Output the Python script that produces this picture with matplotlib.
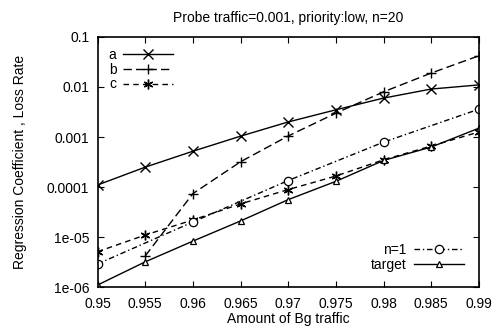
import numpy as np
import matplotlib
matplotlib.use('Agg')
import matplotlib.pyplot as plt
from matplotlib.ticker import FixedLocator, FixedFormatter, NullLocator

plt.rcParams['font.family'] = ['Liberation Sans', 'DejaVu Sans']
plt.rcParams['font.size'] = 10

# data
x_all = [0.95, 0.955, 0.96, 0.965, 0.97, 0.975, 0.98, 0.985, 0.99]
a_vals = [1.1e-4, 2.5e-4, 5.2e-4, 1.04e-3, 2.0e-3, 3.5e-3, 6.0e-3, 9.1e-3, 1.1e-2]
x_b = [0.955, 0.96, 0.965, 0.97, 0.975, 0.98, 0.985, 0.99]
b_vals = [4.2e-6, 7.4e-5, 3.2e-4, 1.05e-3, 3.0e-3, 8.0e-3, 1.9e-2, 4.2e-2]
c_vals = [5.1e-6, 1.1e-5, 2.2e-5, 4.6e-5, 8.9e-5, 1.66e-4, 3.5e-4, 6.6e-4, 1.26e-3]
x_n1 = [0.95, 0.96, 0.97, 0.98, 0.99]
n1_vals = [2.9e-6, 2.0e-5, 1.35e-4, 7.9e-4, 3.6e-3]
target_vals = [1.1e-6, 3.2e-6, 8.3e-6, 2.1e-5, 5.6e-5, 1.3e-4, 3.4e-4, 6.3e-4, 1.5e-3]

y_ticks = [1e-6, 1e-5, 1e-4, 1e-3, 1e-2, 1e-1]
y_labels = ['1e-06', '1e-05', '0.0001', '0.001', '0.01', '0.1']
x_labels = ['0.95', '0.955', '0.96', '0.965', '0.97', '0.975', '0.98', '0.985', '0.99']

fig = plt.figure(figsize=(5.03, 3.30), dpi=100)
ax = fig.add_axes([0.194, 0.130, 0.758, 0.758])

la, = ax.plot(x_all, a_vals, color='black', lw=1.0, ls='-', marker='x', ms=6.5, mew=1.0)
lb, = ax.plot(x_b, b_vals, color='black', lw=1.0, ls=(0, (6, 3)), marker='+', ms=7.5, mew=1.0)
lc, = ax.plot(x_all, c_vals, color='black', lw=1.0, ls=(0, (4, 3)), marker=(6, 2, 0), ms=7, mew=1.0)
ln, = ax.plot(x_n1, n1_vals, color='black', lw=1.0, ls=(0, (4, 2, 1, 2)), marker='o', ms=6,
              mfc='white', mew=0.9)
lt, = ax.plot(x_all, target_vals, color='black', lw=1.0, ls='-', marker='^', ms=5,
              mfc='white', mew=0.9)

ax.set_yscale('log')
ax.set_xlim(0.95, 0.99)
ax.set_ylim(1e-6, 1e-1)
ax.xaxis.set_major_locator(FixedLocator(x_all))
ax.xaxis.set_major_formatter(FixedFormatter(x_labels))
ax.yaxis.set_major_locator(FixedLocator(y_ticks))
ax.yaxis.set_major_formatter(FixedFormatter(y_labels))
ax.yaxis.set_minor_locator(NullLocator())
ax.tick_params(which='major', direction='in', top=True, right=True, colors='black', length=4)
ax.tick_params(axis='x', pad=7)
ax.tick_params(axis='y', pad=6)
for s in ax.spines.values():
    s.set_linewidth(1.2)

ax.set_title('Probe traffic=0.001, priority:low, n=20', fontsize=10, pad=11)
ax.set_xlabel('Amount of Bg traffic', fontsize=10, labelpad=1)
ax.set_ylabel('Regression Coefficient , Loss Rate', fontsize=10, labelpad=14)

leg1 = ax.legend([la, lb, lc], ['a', 'b', 'c'], loc='upper left', frameon=False,
                 markerfirst=False, handlelength=3.6, handletextpad=0.5,
                 labelspacing=0.05, borderaxespad=0.4, fontsize=10)
ax.add_artist(leg1)
ax.legend([ln, lt], ['n=1', 'target'], loc='lower right', frameon=False,
          markerfirst=False, handlelength=3.6, handletextpad=0.5,
          labelspacing=0.05, borderaxespad=0.7, fontsize=10)

fig.savefig('out.png', dpi=100)
